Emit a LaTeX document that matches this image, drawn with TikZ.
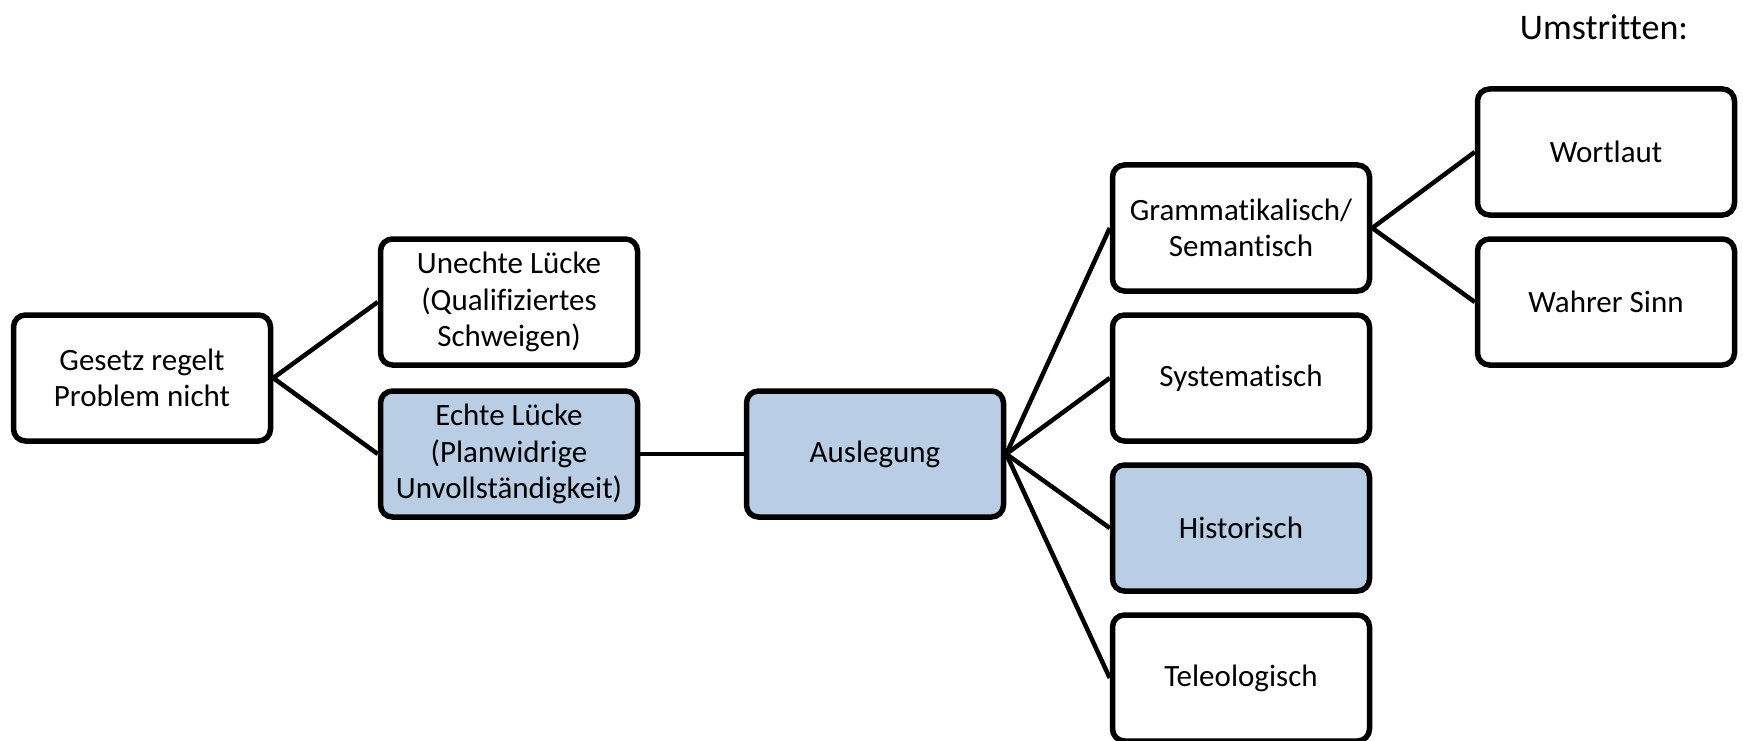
\documentclass[tikz,border=0pt]{standalone}
\usepackage{fontspec}
\setmainfont[Ligatures={NoCommon}]{Carlito}
\definecolor{boxblue}{HTML}{B9CDE5}
\tikzset{
  box/.style={draw=black, line width=5.5pt, rounded corners=12pt, minimum width=257pt, minimum height=126pt, align=center, fill=white, font=\fontsize{31}{36.5}\selectfont, inner sep=2pt},
  hl/.style={box, fill=boxblue},
  link/.style={line width=4.5pt}
}
\begin{document}
\begin{tikzpicture}[x=1pt,y=1pt]
\useasboundingbox (0,0) rectangle (1743,-741);
\node[box] (gesetz) at (142,-378) {Gesetz regelt\\Problem nicht};
\node[box] (unecht) at (509,-302) {Unechte Lücke\\(Qualifiziertes\\Schweigen)};
\node[hl] (echt) at (509,-454) {Echte Lücke\\(Planwidrige\\Unvollständigkeit)};
\node[hl] (ausl) at (875,-454) {Auslegung};
\node[box] (gram) at (1241,-228) {Grammatikalisch/\\Semantisch};
\node[box] (syst) at (1241,-378) {Systematisch};
\node[hl] (hist) at (1241,-528) {Historisch};
\node[box] (tele) at (1241,-678) {Teleologisch};
\node[box] (wort) at (1606,-152) {Wortlaut};
\node[box] (sinn) at (1606,-302) {Wahrer Sinn};
\node[font=\fontsize{36}{40}\selectfont] (umstr) at (1604,-27) {Umstritten:};
\draw[link] (gesetz.east) -- (unecht.west);
\draw[link] (gesetz.east) -- (echt.west);
\draw[link] (echt.east) -- (ausl.west);
\draw[link] (ausl.east) -- (gram.west);
\draw[link] (ausl.east) -- (syst.west);
\draw[link] (ausl.east) -- (hist.west);
\draw[link] (ausl.east) -- (tele.west);
\draw[link] (gram.east) -- (wort.west);
\draw[link] (gram.east) -- (sinn.west);
\end{tikzpicture}
\end{document}
